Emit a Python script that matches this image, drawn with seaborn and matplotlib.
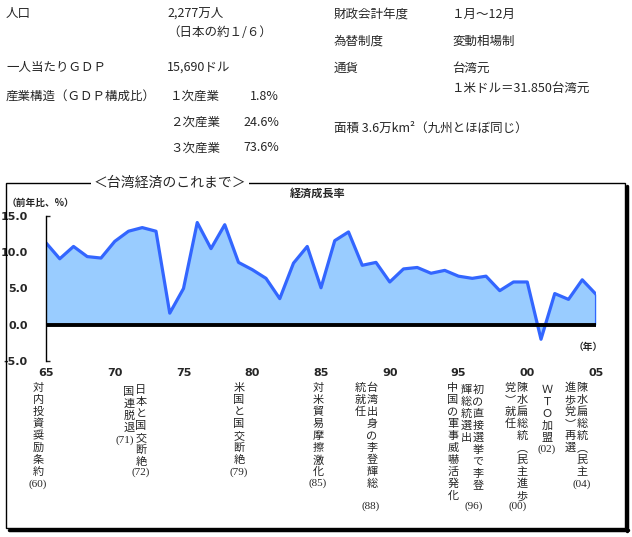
import numpy as np
import pandas as pd
import matplotlib
matplotlib.use('Agg')
import matplotlib.pyplot as plt
import seaborn as sns
from matplotlib.patches import Rectangle
from matplotlib.lines import Line2D

sns.set_style('white')
plt.rcParams['font.family'] = ['Noto Sans CJK JP', 'DejaVu Sans']

# 経済成長率（前年比、%）
years = list(range(1965, 2006))
growth = [11.3, 9.1, 10.8, 9.4, 9.2, 11.5, 12.9, 13.4, 12.9, 1.6,
          5.0, 14.1, 10.5, 13.8, 8.6, 7.6, 6.4, 3.6, 8.5, 10.8,
          5.1, 11.6, 12.8, 8.2, 8.6, 5.9, 7.7, 7.9, 7.1, 7.5,
          6.7, 6.4, 6.7, 4.7, 5.9, 5.9, -2.0, 4.3, 3.5, 6.2, 4.2]
year_ticks = [1965, 1970, 1975, 1980, 1985, 1990, 1995, 2000, 2005]
year_labels = ['65', '70', '75', '80', '85', '90', '95', '00', '05']
y_ticks = [-5.0, 0.0, 5.0, 10.0, 15.0]

# 出来事（縦書き、右の列から）
event_cols = [
    ['対内投資奨励条約'],
    ['国連脱退'],
    ['日本と国交断絶'],
    ['米国と国交断絶'],
    ['対米貿易摩擦激化'],
    ['台湾出身の李登輝総', '統就任'],
    ['中国の軍事威嚇活発化'],
    ['初の直接選挙で李登', '輝総統選出'],
    ['陳水扁総統︵民主進歩', '党︶就任'],
    ['ＷＴＯ加盟'],
    ['陳水扁総統︵民主', '進歩党︶再選'],
]
event_years = ['(60)', '(71)', '(72)', '(79)', '(85)', '(88)', '', '(96)', '(00)', '(02)', '(04)']

# 基本データ
info_left = [('人口', '2,277万人'), ('', '（日本の約１/６）'), ('一人当たりＧＤＰ', '15,690ドル'),
             ('産業構造（ＧＤＰ構成比）', '')]
industry = ['１次産業', '２次産業', '３次産業']
industry_share = ['1.8%', '24.6%', '73.6%']
info_right = [('財政会計年度', '１月～12月'), ('為替制度', '変動相場制'), ('通貨', '台湾元'),
              ('', '１米ドル＝31.850台湾元')]
area_text = '面積 3.6万km²（九州とほぼ同じ）'

W, H = 632, 537
fig = plt.figure(figsize=(W / 100, H / 100), dpi=100)


def P(x, y):
    return x / W, 1 - y / H


# 上部のテキスト
left_y = [13, 33, 67, 96]
for (k, v), yy in zip(info_left, left_y):
    if k:
        fig.text(*P(6, yy), k, fontsize=9, va='center')
    if v:
        fig.text(*P(167, yy), v, fontsize=9, va='center')
for i, (name, share) in enumerate(zip(industry, industry_share)):
    yy = 96 + i * 26
    fig.text(*P(170, yy), name, fontsize=9, va='center')
    fig.text(*P(279, yy), share, fontsize=9, va='center', ha='right')
right_y = [14, 41, 68, 88]
for (k, v), yy in zip(info_right, right_y):
    if k:
        fig.text(*P(334, yy), k, fontsize=9, va='center')
    if v:
        fig.text(*P(452, yy), v, fontsize=9, va='center')
fig.text(*P(334, 128), area_text, fontsize=9, va='center')

# 枠と影
fig.add_artist(Rectangle(P(6, 528), 619 / W, 345 / H, transform=fig.transFigure,
                         fill=False, edgecolor='black', lw=1))
fig.add_artist(Line2D([626.5 / W, 626.5 / W], [1 - 186 / H, 1 - 530.5 / H],
                      transform=fig.transFigure, color='black', lw=2.5))
fig.add_artist(Line2D([9 / W, 628 / W], [1 - 530 / H, 1 - 530 / H],
                      transform=fig.transFigure, color='black', lw=2.5))
fig.text(*P(170, 183), '＜台湾経済のこれまで＞', fontsize=10, ha='center', va='center',
         bbox=dict(facecolor='white', edgecolor='none', pad=2))

# グラフ
ax = fig.add_axes([46 / W, 176 / H, 550 / W, 145 / H])
df = pd.DataFrame({'year': years, 'growth': growth})
ax.fill_between(df['year'], df['growth'], 0, color='#99CCFF', lw=0)
sns.lineplot(data=df, x='year', y='growth', ax=ax, color='#3366FF', lw=2.3)
ax.plot([years[-1], years[-1]], [growth[-1], 0], color='#3366FF', lw=2.3)
ax.axhline(0, color='black', lw=2.8)
ax.set_xlim(1965, 2005)
ax.set_ylim(-5, 15)
ax.set_xlabel('')
ax.set_ylabel('')
ax.set_yticks(y_ticks)
ax.set_yticklabels([f'{v:.1f}' for v in y_ticks], fontsize=8, fontweight='bold',
                   family=['DejaVu Sans'])
ax.set_xticks(year_ticks)
ax.set_xticklabels(year_labels, fontsize=8, fontweight='bold', family=['DejaVu Sans'])
ax.tick_params(axis='y', direction='in', length=3, width=1, pad=13, left=True)
ax.tick_params(axis='x', length=0, pad=5)
for s in ['top', 'right', 'bottom']:
    ax.spines[s].set_visible(False)
ax.spines['left'].set_color('black')
ax.spines['left'].set_linewidth(1)
ax.patch.set_alpha(0)

fig.text(*P(318, 193), '経済成長率', fontsize=8, fontweight='bold', ha='center', va='center')
fig.text(*P(7, 203), '（前年比、%）', fontsize=7, fontweight='bold', va='center')
fig.text(*P(588, 347), '（年）', fontsize=7, fontweight='bold', ha='center', va='center')

# 出来事の縦書き
col_x = [38, 129, 141, 239, 318, 372, 453, 478, 522, 547, 582]
col_y0 = [388, 392, 390, 388, 388, 388, 388, 390, 388, 390, 388]
label_xy = [(38, 484), (125, 440), (141, 472), (239, 472), (318, 483), (371, 506),
            None, (474, 506), (518, 506), (547, 449), (582, 484)]
step = 12
for cols, lab, x0, y0, lxy in zip(event_cols, event_years, col_x, col_y0, label_xy):
    for j, col in enumerate(cols):
        xx = x0 - j * 12
        for k, ch in enumerate(col):
            fig.text(*P(xx, y0 + k * step), ch, fontsize=8, ha='center', va='center')
    if lab:
        fig.text(*P(*lxy), lab, fontsize=8, ha='center', va='center',
                 family=['Liberation Serif'])

plt.savefig('out.png', dpi=100)
